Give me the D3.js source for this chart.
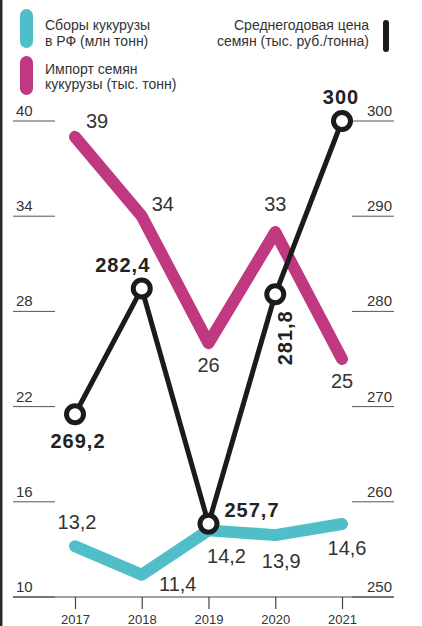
<!DOCTYPE html>
<html><head><meta charset="utf-8">
<script src="https://cdn.jsdelivr.net/npm/d3@7/dist/d3.min.js"></script>
<style>
html,body{margin:0;padding:0;background:#fff;}
svg{display:block;font-family:"Liberation Sans",Arial,sans-serif;}
</style></head>
<body>
<svg id="c" width="422" height="626"></svg>
<script>
const years = ["2017","2018","2019","2020","2021"];
const harvest = [13.2, 11.4, 14.2, 13.9, 14.6];
const imports = [39, 34, 26, 33, 25];
const price = [269.2, 282.4, 257.7, 281.8, 300];
const leftTicks = [10, 16, 22, 28, 34, 40];
const rightTicks = [250, 260, 270, 280, 290, 300];
const harvestLabels = ["13,2", "11,4", "14,2", "13,9", "14,6"];
const importLabels = ["39", "34", "26", "33", "25"];
const priceLabels = ["269,2", "282,4", "257,7", "281,8", "300"];

// label offsets (style, relative to points)
const harvestOff = [[2,-17],[36,16],[18,33],[6,33],[5,31]];
const importOff = [[22,-9],[21,-5],[0,29],[0,-21],[0,29]];
const priceOff = [[3,34,"middle",0],[-19,-17,"middle",0],[16,-7,"start",0],[17,16,"end",-90],[-1,-17,"middle",0]];

const teal = "#50bec8", magenta = "#c0387f", black = "#1b1b1b", txt = "#333";

const svg = d3.select("#c");
const x = d3.scalePoint().domain(years).range([75, 342]);
const yL = d3.scaleLinear().domain([10, 40]).range([597, 121]);
const yR = d3.scaleLinear().domain([250, 300]).range([597, 121]);

// left border
svg.append("line").attr("x1",1.2).attr("x2",1.2).attr("y1",0).attr("y2",626)
  .attr("stroke","#2a2a2a").attr("stroke-width",2.5);

// left axis ticks
const gl = svg.append("g");
leftTicks.forEach(t=>{
  gl.append("line").attr("x1",13).attr("x2",55).attr("y1",yL(t)).attr("y2",yL(t))
    .attr("stroke","#555").attr("stroke-width",1);
  gl.append("text").attr("x",16).attr("y",yL(t)-5).attr("font-size",15)
    .attr("fill",txt).text(t);
});
// right axis ticks
rightTicks.forEach(t=>{
  gl.append("line").attr("x1",352).attr("x2",394).attr("y1",yR(t)).attr("y2",yR(t))
    .attr("stroke","#555").attr("stroke-width",1);
  gl.append("text").attr("x",392).attr("y",yR(t)-5).attr("font-size",15)
    .attr("text-anchor","end").attr("fill",txt).text(t);
});
// bottom axis
const xAxis = d3.axisBottom(x).tickSize(12).tickPadding(6);
const gx = svg.append("g").attr("transform","translate(0,597)").call(xAxis);
gx.select(".domain").remove();
gx.selectAll(".tick line").attr("stroke","#444").attr("stroke-width",1.2);
gx.selectAll(".tick text").attr("font-size",13).attr("fill",txt)
  .attr("font-family","Liberation Sans,Arial,sans-serif").attr("y",27).attr("dy",0);
svg.append("line").attr("x1",13).attr("x2",394).attr("y1",597).attr("y2",597)
  .attr("stroke","#444").attr("stroke-width",1.2);

// lines
const lineL = d3.line().x((d,i)=>x(years[i])).y(d=>yL(d));
const lineR = d3.line().x((d,i)=>x(years[i])).y(d=>yR(d));
svg.append("path").attr("d",lineL(harvest)).attr("fill","none").attr("stroke",teal)
  .attr("stroke-width",12).attr("stroke-linecap","round").attr("stroke-linejoin","round");
svg.append("path").attr("d",lineL(imports)).attr("fill","none").attr("stroke",magenta)
  .attr("stroke-width",12).attr("stroke-linecap","round").attr("stroke-linejoin","round");
svg.append("path").attr("d",lineR(price)).attr("fill","none").attr("stroke",black)
  .attr("stroke-width",5).attr("stroke-linejoin","round");
svg.selectAll("circle.p").data(price).enter().append("circle")
  .attr("cx",(d,i)=>x(years[i])).attr("cy",d=>yR(d)).attr("r",8.5)
  .attr("fill","#fff").attr("stroke",black).attr("stroke-width",5);

// value labels
harvest.forEach((d,i)=>{
  svg.append("text").attr("x",x(years[i])+harvestOff[i][0]).attr("y",yL(d)+harvestOff[i][1])
    .attr("text-anchor","middle").attr("font-size",20).attr("fill",txt).text(harvestLabels[i]);
});
imports.forEach((d,i)=>{
  svg.append("text").attr("x",x(years[i])+importOff[i][0]).attr("y",yL(d)+importOff[i][1])
    .attr("text-anchor","middle").attr("font-size",20).attr("fill",txt).text(importLabels[i]);
});
price.forEach((d,i)=>{
  const o = priceOff[i];
  svg.append("text")
    .attr("transform",`translate(${x(years[i])+o[0]},${yR(d)+o[1]}) rotate(${o[3]})`)
    .attr("text-anchor",o[2]).attr("font-size",20).attr("font-weight","bold")
    .attr("letter-spacing",1).attr("fill","#222").text(priceLabels[i]);
});

// legend
svg.append("rect").attr("x",20).attr("y",9).attr("width",13).attr("height",39).attr("rx",6.5).attr("fill",teal);
svg.append("rect").attr("x",20).attr("y",56).attr("width",13).attr("height",39).attr("rx",6.5).attr("fill",magenta);
svg.append("rect").attr("x",383).attr("y",20).attr("width",6).attr("height",32).attr("rx",3).attr("fill",black);
const leg = [
  ["Сборы кукурузы",45,30,"start"],["в РФ (млн тонн)",45,45.5,"start"],
  ["Импорт семян",45,74,"start"],["кукурузы (тыс. тонн)",45,89,"start"],
  ["Среднегодовая цена",369,30,"end"],["семян (тыс. руб./тонна)",369,45.5,"end"]
];
leg.forEach(l=>{
  svg.append("text").attr("x",l[1]).attr("y",l[2]).attr("text-anchor",l[3])
    .attr("font-size",14).attr("fill",txt).text(l[0]);
});
</script>
</body></html>
